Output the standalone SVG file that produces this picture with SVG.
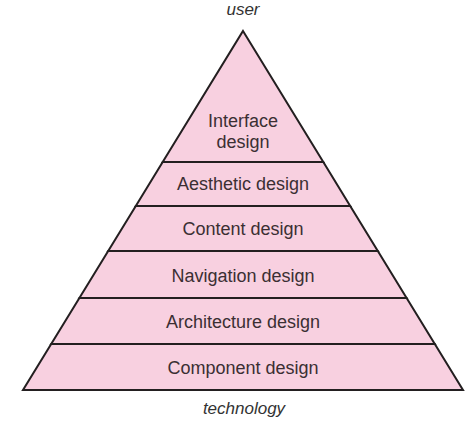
<svg xmlns="http://www.w3.org/2000/svg" width="474" height="425" viewBox="0 0 474 425">
<style>
.layer{fill:#f8d0e0;stroke:#231f20;stroke-width:2;stroke-linejoin:miter}
.lbl{font-family:"Liberation Sans",Arial,sans-serif;font-size:18px;fill:#3b2f33;text-anchor:middle}
.cap{font-family:"Liberation Sans",Arial,sans-serif;font-size:17px;font-style:italic;fill:#333;text-anchor:middle}
</style>
<rect width="474" height="425" fill="#ffffff"/>
<text class="cap" x="243" y="15">user</text>
<g id="interface">
<polygon class="layer" points="243,31 323.3,162 162.7,162"/>
<text class="lbl" x="243" y="127">Interface</text>
<text class="lbl" x="243" y="148">design</text>
</g>
<g id="aesthetic">
<polygon class="layer" points="162.7,162 323.3,162 350.2,206 135.8,206"/>
<text class="lbl" x="243" y="190">Aesthetic design</text>
</g>
<g id="content">
<polygon class="layer" points="135.8,206 350.2,206 377.8,251 108.2,251"/>
<text class="lbl" x="243" y="235">Content design</text>
</g>
<g id="navigation">
<polygon class="layer" points="108.2,251 377.8,251 406.6,298 79.4,298"/>
<text class="lbl" x="243" y="282">Navigation design</text>
</g>
<g id="architecture">
<polygon class="layer" points="79.4,298 406.6,298 434.8,344 51.2,344"/>
<text class="lbl" x="243" y="328">Architecture design</text>
</g>
<g id="component">
<polygon class="layer" points="51.2,344 434.8,344 463,390 23,390"/>
<text class="lbl" x="243" y="374">Component design</text>
</g>
<text class="cap" x="244" y="414">technology</text>
</svg>
